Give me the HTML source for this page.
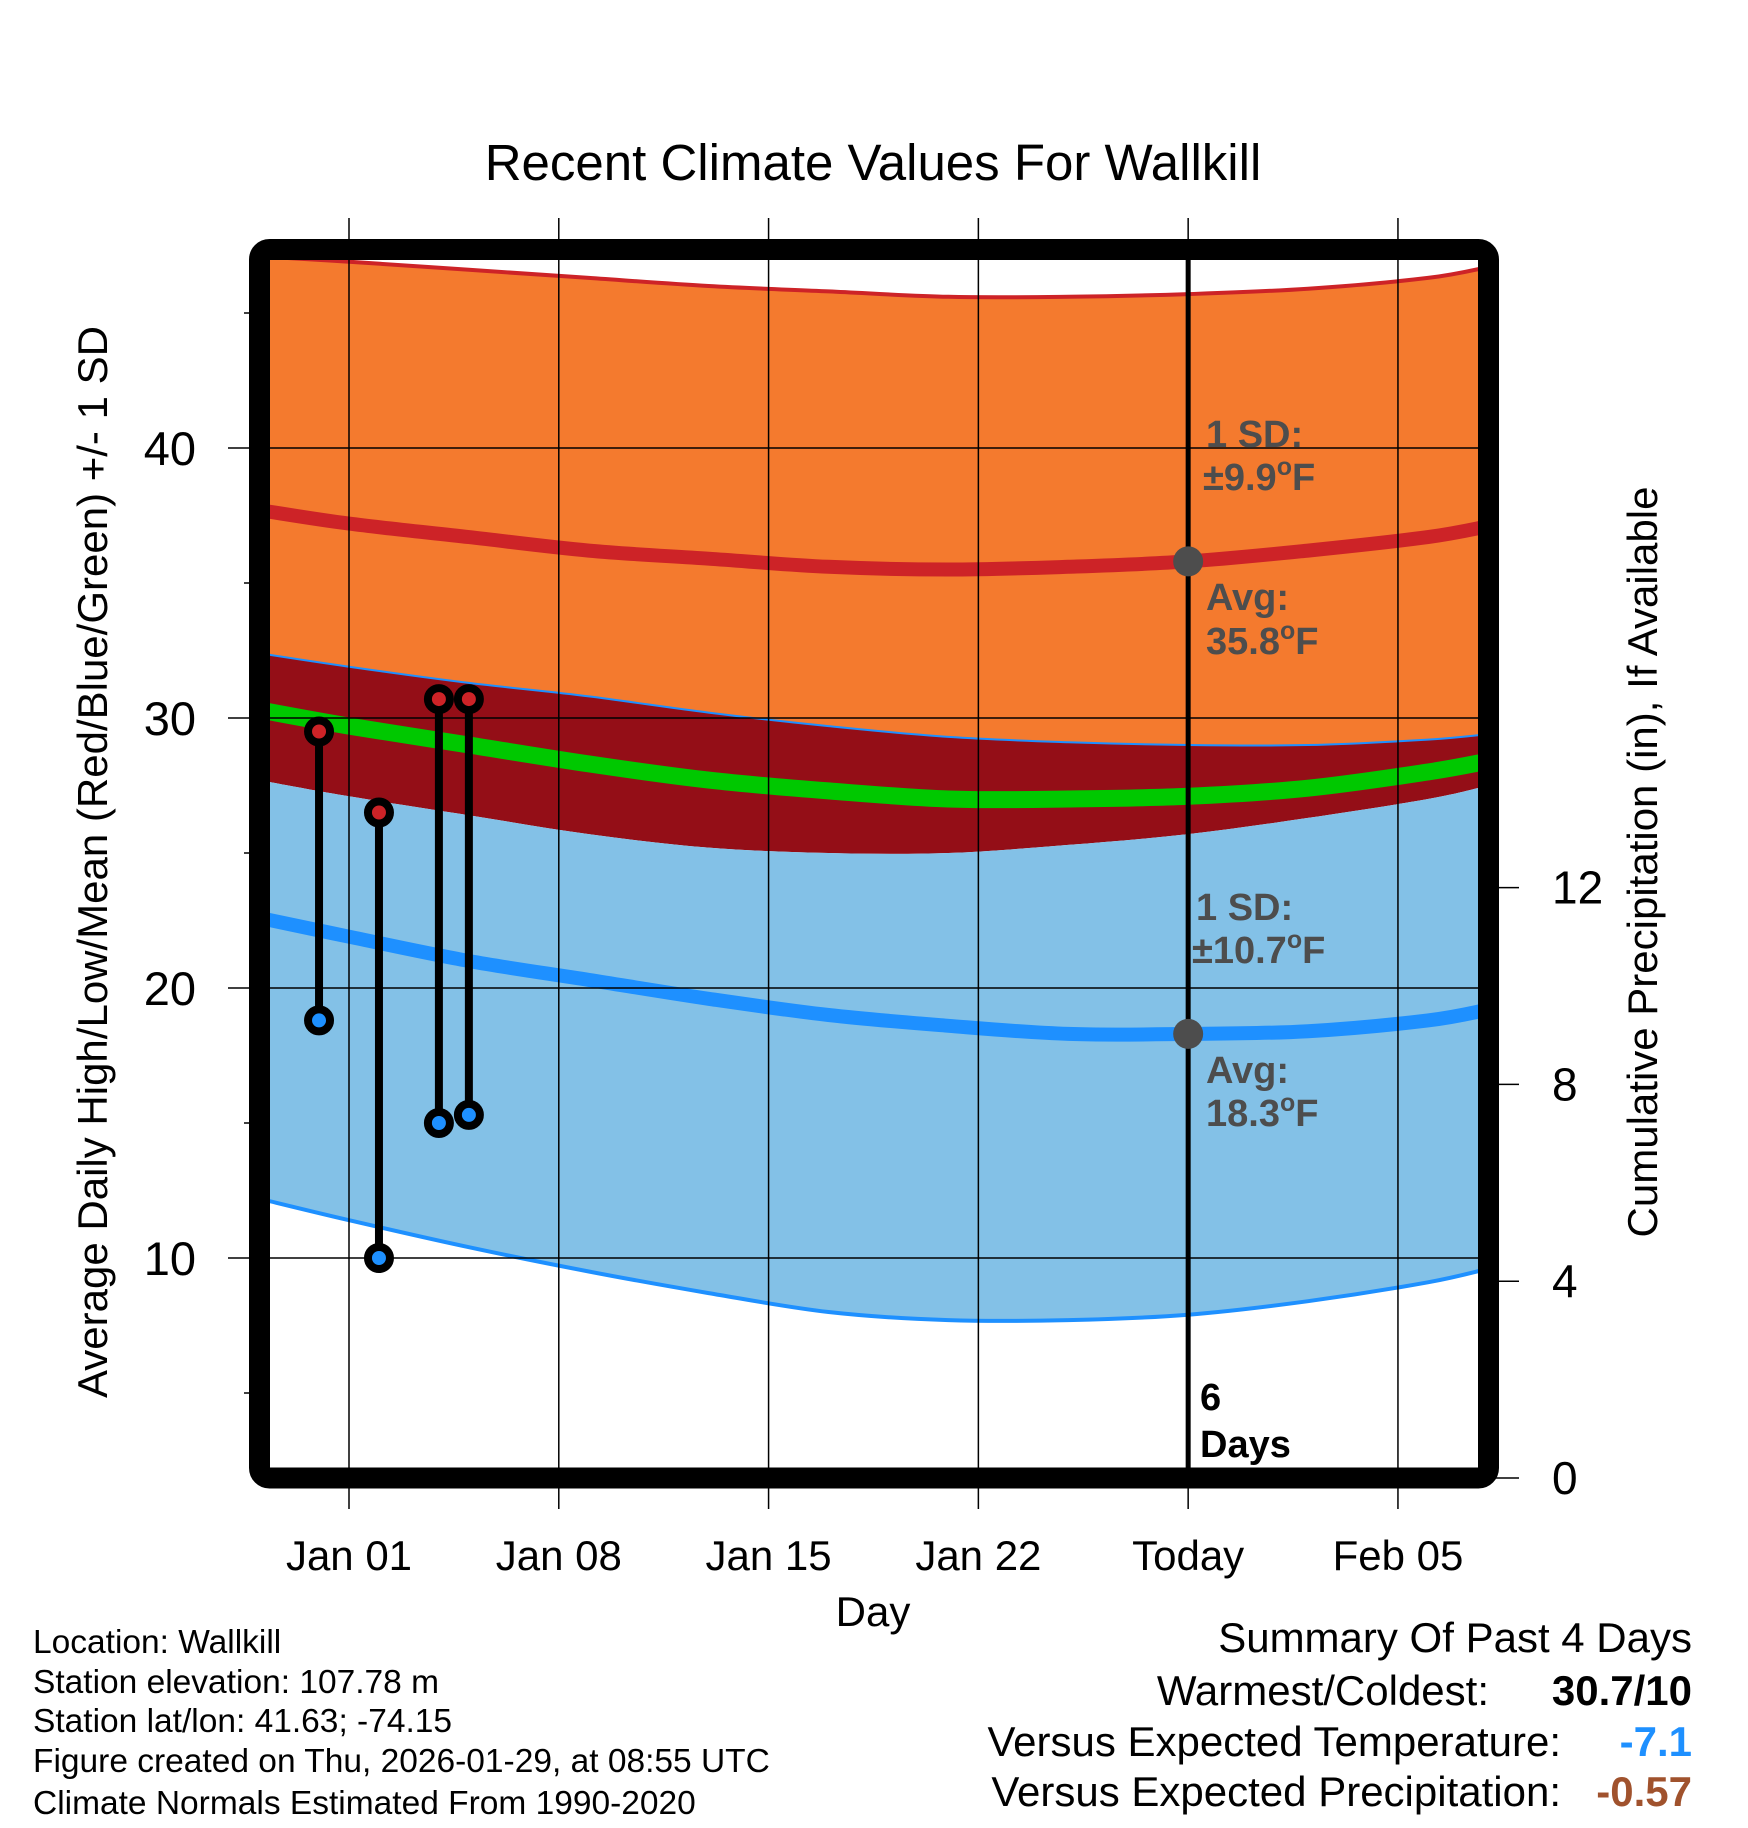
<!DOCTYPE html>
<html><head><meta charset="utf-8"><style>
body{margin:0;background:#fff;}
svg{display:block;font-family:"Liberation Sans",sans-serif;}
</style></head><body>
<svg id="chart" width="1748" height="1828" viewBox="0 0 1748 1828" xmlns="http://www.w3.org/2000/svg">
<defs><clipPath id="pc"><rect x="270" y="260" width="1208" height="1208"/></clipPath></defs>
<text x="873" y="180" font-size="51" text-anchor="middle">Recent Climate Values For Wallkill</text>
<g id="bands" clip-path="url(#pc)"></g>
<g id="grid"></g>
<g id="marks"></g>
<rect x="259.5" y="249.5" width="1229" height="1228.5" rx="10" fill="none" stroke="#000" stroke-width="21"/>
<g font-weight="bold" font-size="38" fill="#4d4d4d">
<text x="1206" y="447">1 SD:</text>
<text x="1203" y="490">±9.9<tspan font-size="25" dy="-15">o</tspan><tspan dy="15">F</tspan></text>
<text x="1206" y="610">Avg:</text>
<text x="1206" y="654">35.8<tspan font-size="25" dy="-15">o</tspan><tspan dy="15">F</tspan></text>
<text x="1196" y="920">1 SD:</text>
<text x="1192" y="963">±10.7<tspan font-size="25" dy="-15">o</tspan><tspan dy="15">F</tspan></text>
<text x="1206" y="1083">Avg:</text>
<text x="1206" y="1126">18.3<tspan font-size="25" dy="-15">o</tspan><tspan dy="15">F</tspan></text>
<text x="1200" y="1410" fill="#000">6</text>
<text x="1200" y="1457" fill="#000">Days</text>
</g>
<g id="axes"></g>
<text transform="translate(107,862) rotate(-90)" font-size="42" text-anchor="middle">Average Daily High/Low/Mean (Red/Blue/Green) +/- 1 SD</text>
<text transform="translate(1657,862) rotate(-90)" font-size="42" text-anchor="middle">Cumulative Precipitation (in), If Available</text>
<text x="873" y="1626" font-size="42" text-anchor="middle">Day</text>
<g font-size="33.5">
<text x="33" y="1653">Location: Wallkill</text>
<text x="33" y="1693">Station elevation: 107.78 m</text>
<text x="33" y="1732">Station lat/lon: 41.63; -74.15</text>
<text x="33" y="1772">Figure created on Thu, 2026-01-29, at 08:55 UTC</text>
<text x="33" y="1814">Climate Normals Estimated From 1990-2020</text>
</g>
<g font-size="42" text-anchor="end">
<text x="1692" y="1652">Summary Of Past 4 Days</text>
<text x="1489" y="1705">Warmest/Coldest:</text>
<text x="1692" y="1705" font-weight="bold">30.7/10</text>
<text x="1561" y="1756">Versus Expected Temperature:</text>
<text x="1692" y="1756" font-weight="bold" fill="#1E90FF">-7.1</text>
<text x="1561" y="1806">Versus Expected Precipitation:</text>
<text x="1692" y="1806" font-weight="bold" fill="#A0522D">-0.57</text>
</g>
</svg>
<script>
const days = [-3,0,4,8,12,16,20,24,28,32,36,38];
const highUpper = [47.1,46.9,46.6,46.3,46.0,45.8,45.6,45.6,45.7,45.9,46.3,46.7];
const highMean = [37.7,37.2,36.7,36.2,35.9,35.6,35.5,35.6,35.8,36.2,36.7,37.1];
const highLower = [32.4,31.9,31.3,30.8,30.2,29.7,29.3,29.1,29.0,29.0,29.2,29.4];
const meanMid = [30.3,29.7,29.0,28.3,27.7,27.3,27.0,27.0,27.1,27.4,28.0,28.4];
const lowUpper = [27.7,27.1,26.4,25.7,25.2,25.0,25.0,25.3,25.7,26.3,27.0,27.5];
const lowMean = [22.6,21.9,21.0,20.3,19.6,19.0,18.6,18.3,18.3,18.4,18.8,19.2];
const lowLower = [12.2,11.4,10.4,9.5,8.7,8.0,7.7,7.7,7.9,8.4,9.1,9.6];
const obsDays = [-1,1,3,4];
const obsHigh = [29.5,26.5,30.7,30.7];
const obsLow = [18.8,10.0,15.0,15.3];
const todayDay = 28;
const todayHigh = 35.8;
const todayLow = 18.3;
const xTickDays = [0,7,14,21,28,35];
const xTickLabels = ["Jan 01","Jan 08","Jan 15","Jan 22","Today","Feb 05"];
const yTicks = [10,20,30,40];
const yMinor = [5,15,25,35,45];
const pTicks = [0,4,8,12];

const X = d => 349 + d*29.97;
const Y = v => 448 - (v-40)*27.0;
const P = p => 1478 - p*49.2;
const NS = "http://www.w3.org/2000/svg";
function mk(parent, tag, attrs){const e=document.createElementNS(NS,tag);for(const k in attrs)e.setAttribute(k,attrs[k]);parent.appendChild(e);return e;}
function smooth(p){
  let s="";
  for(let i=0;i<p.length-1;i++){
    const p0=p[Math.max(i-1,0)],p1=p[i],p2=p[i+1],p3=p[Math.min(i+2,p.length-1)];
    const c1=[p1[0]+(p2[0]-p0[0])/6,p1[1]+(p2[1]-p0[1])/6];
    const c2=[p2[0]-(p3[0]-p1[0])/6,p2[1]-(p3[1]-p1[1])/6];
    s+=" C"+c1[0].toFixed(1)+","+c1[1].toFixed(1)+" "+c2[0].toFixed(1)+","+c2[1].toFixed(1)+" "+p2[0].toFixed(1)+","+p2[1].toFixed(1);
  }
  return s;
}
function P2(arr){return days.map((d,i)=>[X(d),Y(arr[i])]);}
function line(arr){const p=P2(arr);return "M"+p[0][0]+","+p[0][1]+smooth(p);}
function band(a,b){const p1=P2(a),p2=P2(b).reverse();return "M"+p1[0][0]+","+p1[0][1]+smooth(p1)+" L"+p2[0][0]+","+p2[0][1]+smooth(p2)+" Z";}

const B=document.getElementById('bands');
let e;
e=mk(B,'path',{d:band(highUpper,highLower),fill:'#F47A2E'});


e=mk(B,'path',{d:band(highLower,lowUpper),fill:'#940E17'});


e=mk(B,'path',{d:band(lowUpper,lowLower),fill:'#83C1E7'});


e=mk(B,'path',{d:line(highUpper),fill:'none',stroke:'#CD2327',"stroke-width":4});


e=mk(B,'path',{d:line(highLower),fill:'none',stroke:'#1E90FF',"stroke-width":2});


e=mk(B,'path',{d:line(lowLower),fill:'none',stroke:'#1E90FF',"stroke-width":4});


e=mk(B,'path',{d:line(highMean),fill:'none',stroke:'#CD2327',"stroke-width":14});


e=mk(B,'path',{d:line(meanMid),fill:'none',stroke:'#00C800',"stroke-width":17});


e=mk(B,'path',{d:line(lowMean),fill:'none',stroke:'#1E90FF',"stroke-width":14});



const G=document.getElementById('grid');
xTickDays.forEach(d=>{
  e=mk(G,'line',{x1:X(d),x2:X(d),y1:218,y2:1509,stroke:'#000','stroke-width':1.5});
  
  
});
yTicks.forEach(v=>{
  e=mk(G,'line',{x1:228,x2:1478,y1:Y(v),y2:Y(v),stroke:'#000','stroke-width':1.5});
  
  
});
yMinor.forEach(v=>{
  e=mk(G,'line',{x1:244,x2:260,y1:Y(v),y2:Y(v),stroke:'#000','stroke-width':1.5});
  
  
});
pTicks.forEach(p=>{
  e=mk(G,'line',{x1:1488,x2:1519,y1:P(p),y2:P(p),stroke:'#000','stroke-width':1.5});
  
  
});
e=mk(G,'line',{x1:X(todayDay),x2:X(todayDay),y1:260,y2:1468,stroke:'#000','stroke-width':5});



const M=document.getElementById('marks');
obsDays.forEach((d,i)=>{
  e=mk(M,'line',{x1:X(d),x2:X(d),y1:Y(obsHigh[i]),y2:Y(obsLow[i]),stroke:'#000','stroke-width':8});
  
  
  e=mk(M,'circle',{cx:X(d),cy:Y(obsHigh[i]),r:11,fill:'#CD2327',stroke:'#000','stroke-width':8});
  
  
  e=mk(M,'circle',{cx:X(d),cy:Y(obsLow[i]),r:11,fill:'#1E90FF',stroke:'#000','stroke-width':8});
  
  
});
e=mk(M,'circle',{cx:X(todayDay),cy:Y(todayHigh),r:15,fill:'#4d4d4d'});


e=mk(M,'circle',{cx:X(todayDay),cy:Y(todayLow),r:15,fill:'#4d4d4d'});



const A=document.getElementById('axes');
xTickDays.forEach((d,i)=>{
  e=mk(A,'text',{x:X(d),y:1570,'text-anchor':'middle','font-size':42});
  e.textContent=xTickLabels[i];
  
  
});
yTicks.forEach(v=>{
  e=mk(A,'text',{x:196,y:Y(v)+17,'text-anchor':'end','font-size':47});
  e.textContent=v;
  
  
});
pTicks.forEach(p=>{
  e=mk(A,'text',{x:1552,y:P(p)+16,'text-anchor':'start','font-size':46});
  e.textContent=p;
  
  
});
</script>
</body></html>
